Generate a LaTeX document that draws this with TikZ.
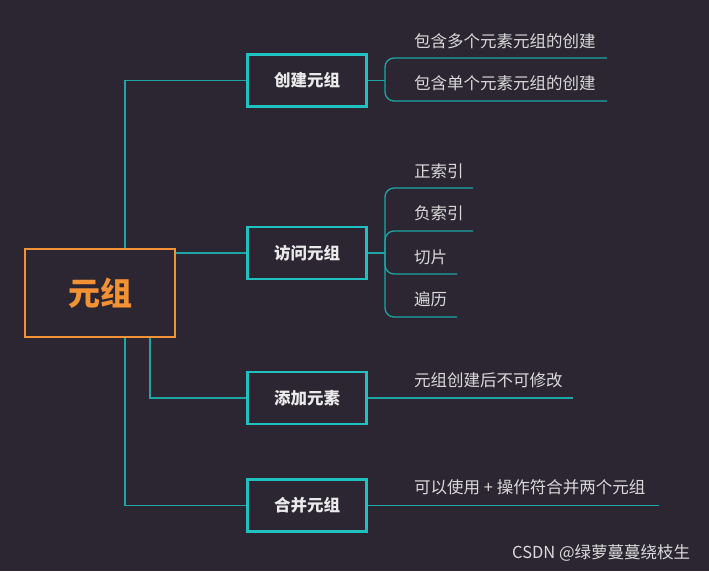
\documentclass[tikz,border=0pt]{standalone}
\usepackage{xcolor}
\usepackage{fontspec}
\usepackage{tikz}
\newfontfamily\cjk{Noto Sans CJK SC}
\definecolor{MMBack}{HTML}{2B2631}
\definecolor{MMOrange}{HTML}{F39234}
\definecolor{MMBox}{HTML}{1FC1C1}
\definecolor{MMLine}{HTML}{1DA6A6}
\definecolor{MMText}{HTML}{DADADA}
\definecolor{MMHead}{HTML}{EAEAEA}

\begin{document}
\begin{tikzpicture}[x=1pt,y=-1pt,
  rootbox/.style={draw=MMOrange,line width=2.4pt,minimum width=150pt,minimum height=88pt,
    text=MMOrange,font=\cjk\bfseries\fontsize{32}{36}\selectfont},
  topicbox/.style={draw=MMBox,line width=2.6pt,minimum width=119pt,minimum height=52pt,
    text=MMHead,font=\cjk\bfseries\fontsize{16.5}{20}\selectfont},
  leaf/.style={anchor=west,inner sep=0pt,text=MMText,font=\cjk\fontsize{16.5}{20}\selectfont},
  link/.style={draw=MMLine,line width=1.3pt},
  twig/.style={link,rounded corners=9pt}]
\path[fill=MMBack,use as bounding box] (0,0) rectangle (709,571);
% main topic and subtopics
\node[rootbox] (root) at (100,293) {元组};
\node[topicbox] (create) at (307,80.5) {创建元组};
\node[topicbox] (access) at (307,253) {访问元组};
\node[topicbox] (add) at (307,398) {添加元素};
\node[topicbox] (merge) at (307,505.5) {合并元组};
\draw[link] ([xshift=25pt]root.north) |- (create.west);
\draw[link] (access.west -| root.east) -- (access.west);
\draw[link] ([xshift=50pt]root.south) |- (add.west);
\draw[link] ([xshift=25pt]root.south) |- (merge.west);
% leaves of create
\coordinate (jcreate) at (385,80.5);
\node[leaf] (many) at (414,41) {包含多个元素元组的创建};
\node[leaf] (single) at (414,83) {包含单个元素元组的创建};
\coordinate (emany) at (607,58);
\coordinate (esingle) at (607,101);
\draw[link] (create.east) -- (jcreate);
\draw[twig] (jcreate) |- (emany);
\draw[twig] (jcreate) |- (esingle);
% leaves of access
\coordinate (jaccess) at (385,253);
\node[leaf] (pos) at (414,171) {正索引};
\node[leaf] (neg) at (414,213) {负索引};
\node[leaf] (slice) at (414,257) {切片};
\node[leaf] (loop) at (414,299) {遍历};
\coordinate (epos) at (473,188);
\coordinate (eneg) at (473,231);
\coordinate (eslice) at (457,274);
\coordinate (eloop) at (457,317);
\draw[link] (access.east) -- (jaccess);
\foreach \e in {epos,eneg,eslice,eloop}
  \draw[twig] (jaccess) |- (\e);
% leaves of add and merge
\node[leaf] (fixed) at (414,380) {元组创建后不可修改};
\coordinate (efixed) at (573,398);
\draw[link] (add.east) -- (add.east -| efixed);
\node[leaf] (plus) at (414,487) {可以使用 + 操作符合并两个元组};
\coordinate (eplus) at (659,505.5);
\draw[link] (merge.east) -- (merge.east -| eplus);
\node[anchor=west,inner sep=0pt,text=MMText,font=\cjk\fontsize{16.5}{20}\selectfont] (mark) at (512,553) {CSDN @绿萝蔓蔓绕枝生};
\end{tikzpicture}
\end{document}
